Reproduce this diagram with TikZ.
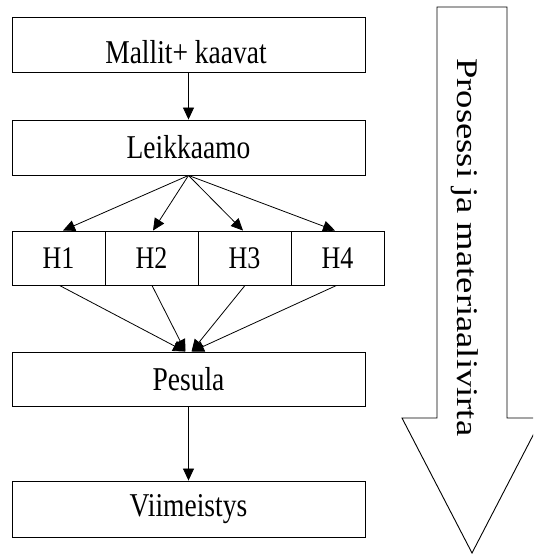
\documentclass[tikz,border=0pt]{standalone}
\usepackage{fontspec}
\setmainfont{Liberation Serif}
\usetikzlibrary{arrows.meta,calc}
\newcommand{\tallish}[2][27.5]{\scalebox{1}[1.21]{\fontsize{#1}{#1}\selectfont #2}}
\begin{document}
\begin{tikzpicture}[x=1pt,y=-1pt,
  box/.style={draw=black,line width=0.9pt,fill=white,minimum width=353pt,minimum height=55pt,inner sep=0pt},
  hbox/.style={draw=black,line width=0.9pt,fill=white,minimum width=93pt,minimum height=54pt,inner sep=0pt},
  flow/.style={line width=0.8pt,-{Triangle[length=12pt,width=11pt]}}]
\useasboundingbox (0,0) rectangle (533,554);

% process steps
\node[box] (malli) at (188.5,44.5) {};
\node[inner sep=0pt] (mallitext) at (186,52) {\tallish{Mallit+ kaavat}};
\node[box] (leik) at (188.5,147.5) {\tallish{Leikkaamo}};
\node[hbox] (h1) at (58.5,258) {\tallish[26]{H1}};
\node[hbox] (h2) at (151.5,258) {\tallish[26]{H2}};
\node[hbox] (h3) at (244.5,258) {\tallish[26]{H3}};
\node[hbox] (h4) at (337.5,258) {\tallish[26]{H4}};
\node[box,minimum height=54pt] (pes) at (188.5,379) {\tallish{Pesula}};
\node[box,minimum height=56pt] (viim) at (188.5,509) {\tallish{Viimeistys}};

% connectors
\draw[flow] (malli.south) -- (leik.north);
\draw[flow] (leik.south) -- ([xshift=4.5pt]h1.north);
\draw[flow] (leik.south) -- ([xshift=1.5pt]h2.north);
\draw[flow] (leik.south) -- ([xshift=-1.5pt]h3.north);
\draw[flow] (leik.south) -- ([xshift=-2.5pt]h4.north);
\draw[flow] ([xshift=1pt]h1.south) -- ([xshift=-3.5pt]pes.north);
\draw[flow] ([xshift=0.5pt]h2.south) -- ([xshift=-3pt]pes.north);
\draw[flow] ([xshift=0.5pt]h3.south) -- ([xshift=3pt]pes.north);
\draw[flow] ([xshift=-1pt]h4.south) -- ([xshift=3.5pt]pes.north);
\draw[flow] (pes.south) -- (viim.north);

% large flow arrow on the right
\begin{scope}
\clip (0,0) rectangle (533,554);
\draw[line width=0.9pt,fill=white] (437,7) -- (507,7) -- (507,418) -- (542,418)
  -- (472,553) -- (402,418) -- (437,418) -- cycle;
\end{scope}
\node[rotate=-90,inner sep=0pt,anchor=base west] (flowtext) at (457,58)
  {\scalebox{1.22}[1]{\fontsize{30}{30}\selectfont Prosessi ja materiaalivirta}};
\end{tikzpicture}
\end{document}
